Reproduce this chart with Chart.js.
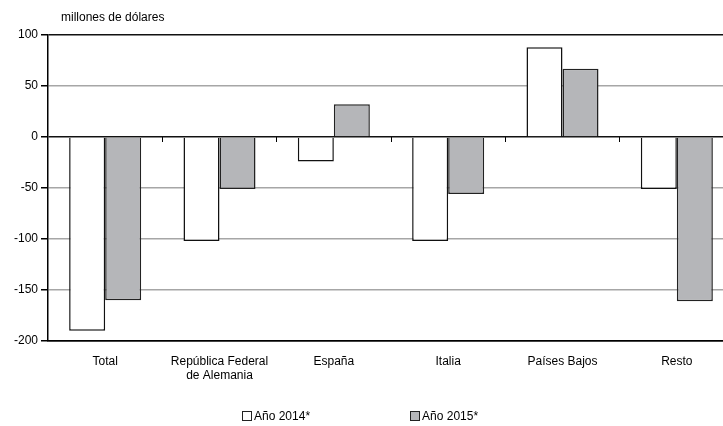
<!DOCTYPE html>
<html>
<head>
<meta charset="utf-8">
<script src="https://cdn.jsdelivr.net/npm/chart.js@4"></script>
<style>
  html, body { margin: 0; padding: 0; background: #fff; overflow: hidden; }
  #wrap { position: relative; width: 723px; height: 426px; overflow: hidden; font-family: "Liberation Sans", Arial, sans-serif; color: #000; }
  #c { position: absolute; left: 0; top: 0; }
  #unit { position: absolute; left: 61px; top: 10px; font-size: 12px; }
  #legend { position: absolute; top: 409px; left: 242px; display: flex; font-size: 12px; line-height: 14px; }
  .item { display: flex; align-items: center; }
  .item + .item { margin-left: 100px; }
  .box { width: 8px; height: 8px; border: 1px solid #222; margin-right: 2px; }
</style>
</head>
<body>
<div id="wrap">
  <canvas id="c" width="734" height="426"></canvas>
  <div id="unit">millones de dólares</div>
  <div id="legend"></div>
</div>
<script>
const categories = ["Total", ["República Federal", "de Alemania"], "España", "Italia", "Países Bajos", "Resto"];
const seriesNames = ["Año 2014*", "Año 2015*"];
const values2014 = [-190, -102, -24, -102, 88, -51];
const values2015 = [-160, -51, 32, -56, 67, -161];
const seriesColors = ["#ffffff", "#b5b6b9"];
const seriesBorders = ["#111111", "#222222"];

const legendEl = document.getElementById('legend');
seriesNames.forEach((n, i) => {
  const it = document.createElement('div');
  it.className = 'item';
  const b = document.createElement('div');
  b.className = 'box';
  b.style.background = seriesColors[i];
  const t = document.createElement('span');
  t.textContent = n;
  it.appendChild(b); it.appendChild(t);
  legendEl.appendChild(it);
});

const font = { family: '"Liberation Sans", Arial, sans-serif', size: 12 };

new Chart(document.getElementById('c'), {
  type: 'bar',
  data: {
    labels: categories,
    datasets: [
      { label: seriesNames[0], data: values2014, backgroundColor: seriesColors[0], borderColor: seriesBorders[0], borderWidth: 1.5, categoryPercentage: 0.63, barPercentage: 1.0 },
      { label: seriesNames[1], data: values2015, backgroundColor: seriesColors[1], borderColor: seriesBorders[1], borderWidth: 1.5, categoryPercentage: 0.63, barPercentage: 1.0 }
    ]
  },
  options: {
    responsive: false,
    animation: false,
    devicePixelRatio: 1,
    layout: { padding: { top: 35, right: 0, left: 0, bottom: 0 } },
    plugins: { legend: { display: false }, tooltip: { enabled: false }, title: { display: false } },
    scales: {
      x: {
        position: 'bottom',
        grid: { display: false, drawTicks: false },
        border: { display: true, color: '#000', width: 1.5 },
        ticks: { color: '#000', font: font, padding: 13, maxRotation: 0, autoSkip: false },
        afterFit: (s) => { s.height = 85; }
      },
      x2: {
        type: 'category',
        labels: categories,
        position: { y: 0 },
        offset: true,
        grid: { display: true, drawOnChartArea: false, drawTicks: true, tickLength: 5, offset: true, color: '#000', lineWidth: 1 },
        border: { display: false },
        ticks: { display: false }
      },
      y: {
        min: -200, max: 100,
        ticks: { stepSize: 50, color: '#000', font: font, padding: 3 },
        grid: {
          color: (ctx) => (ctx.tick && (ctx.tick.value === 0 || ctx.tick.value === 100 || ctx.tick.value === -200)) ? '#111' : '#a6a6a6',
          lineWidth: 1.5,
          tickColor: '#000',
          tickLength: 7
        },
        border: { display: true, color: '#000', width: 1.5 },
        afterFit: (s) => { s.width = 48; }
      }
    }
  }
});
</script>
</body>
</html>
